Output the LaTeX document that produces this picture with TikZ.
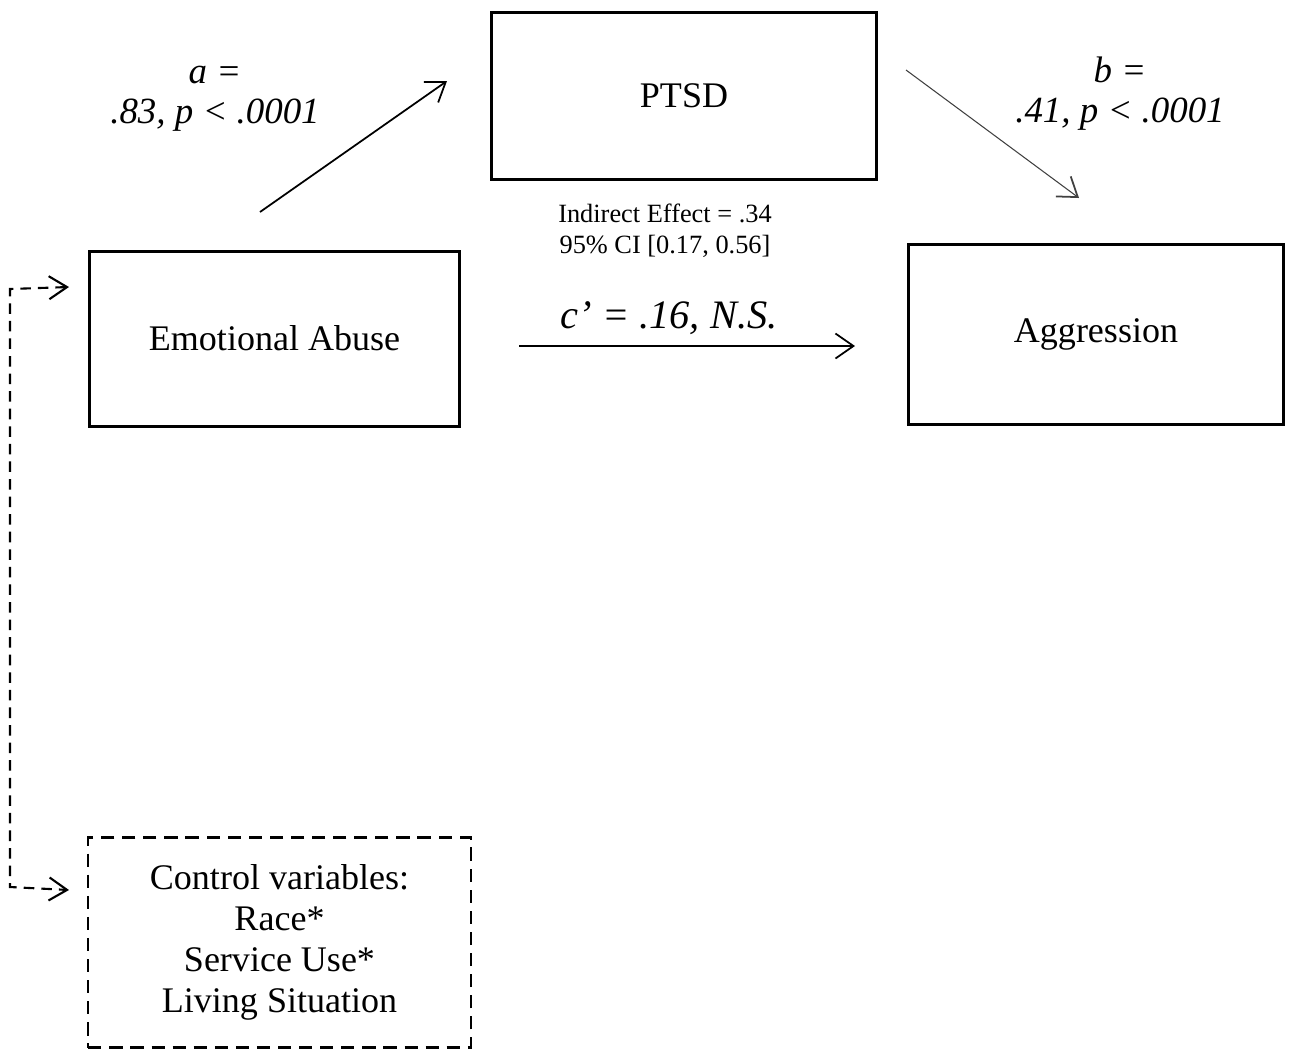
\documentclass[tikz,border=0pt]{standalone}
\usepackage{fontspec}
\setmainfont{Liberation Serif}
\usetikzlibrary{arrows.meta}

\tikzset{
    varbox/.style={draw, line width=1.7pt, font=\fontsize{20.5}{24}\selectfont},
    ctrlbox/.style={draw, line width=1.3pt, dash pattern=on 7.5pt off 4.5pt, align=center,
        font=\fontsize{20.5}{23.3}\selectfont},
    pathlabel/.style={align=center, font=\fontsize{21}{22.7}\selectfont\itshape},
    barb/.style={-{Straight Barb[length=3.6mm, width=5mm, line width=1pt]}}
}

\begin{document}
\begin{tikzpicture}
    \useasboundingbox (0,0) rectangle (25.84,-21.06);

    % the variables
    \node[varbox, minimum width=7.7cm, minimum height=3.35cm] (ptsd) at (13.68,-1.92) {PTSD};
    \node[varbox, minimum width=7.4cm, minimum height=3.5cm] (abuse) at (5.49,-6.77) {Emotional Abuse};
    \node[varbox, minimum width=7.5cm, minimum height=3.6cm] (aggr) at (21.92,-6.68) {Aggression};
    \node[ctrlbox, minimum width=7.65cm, minimum height=4.2cm] (ctrl) at (5.59,-18.85)
        {Control variables:\\Race*\\Service Use*\\Living Situation};

    % the path coefficients
    \node[pathlabel] (alab) at (4.3,-1.98) {a =\\.83, p < .0001};
    \node[pathlabel] (blab) at (22.4,-1.88) {b =\\.41, p < .0001};
    \node[pathlabel, font=\fontsize{23}{26}\selectfont\itshape] (clab) at (13.38,-6.36) {c’ = .16, N.S.};
    \node[align=center, font=\fontsize{15}{17.6}\selectfont] (indirect) at (13.3,-4.62)
        {Indirect Effect = .34\\95\% CI [0.17, 0.56]};

    % end points of the arrows (they stop short of the boxes)
    \coordinate (a0) at (5.2,-4.24);
    \coordinate (a1) at (8.94,-1.62);
    \coordinate (b0) at (18.12,-1.4);
    \coordinate (b1) at (21.58,-3.96);
    \coordinate (c0) at (10.38,-6.92);
    \coordinate (c1) at (17.1,-6.92);
    \coordinate (d0) at (1.38,-5.74);
    \coordinate (d1) at (0.2,-5.78);
    \coordinate (d2) at (0.2,-17.74);
    \coordinate (d3) at (1.38,-17.8);

    % draw the arrows
    \draw[barb, line width=1pt] (a0) -- (a1);
    \draw[barb, line width=0.6pt, black!75] (b0) -- (b1);
    \draw[barb, line width=1pt] (c0) -- (c1);
    \draw[line width=1.2pt, dash pattern=on 6pt off 4pt,
        {Straight Barb[length=3.6mm, width=4.6mm, line width=1.2pt]}-{Straight Barb[length=3.6mm, width=4.6mm, line width=1.2pt]}]
        (d0) -- (d1) -- (d2) -- (d3);
\end{tikzpicture}
\end{document}
